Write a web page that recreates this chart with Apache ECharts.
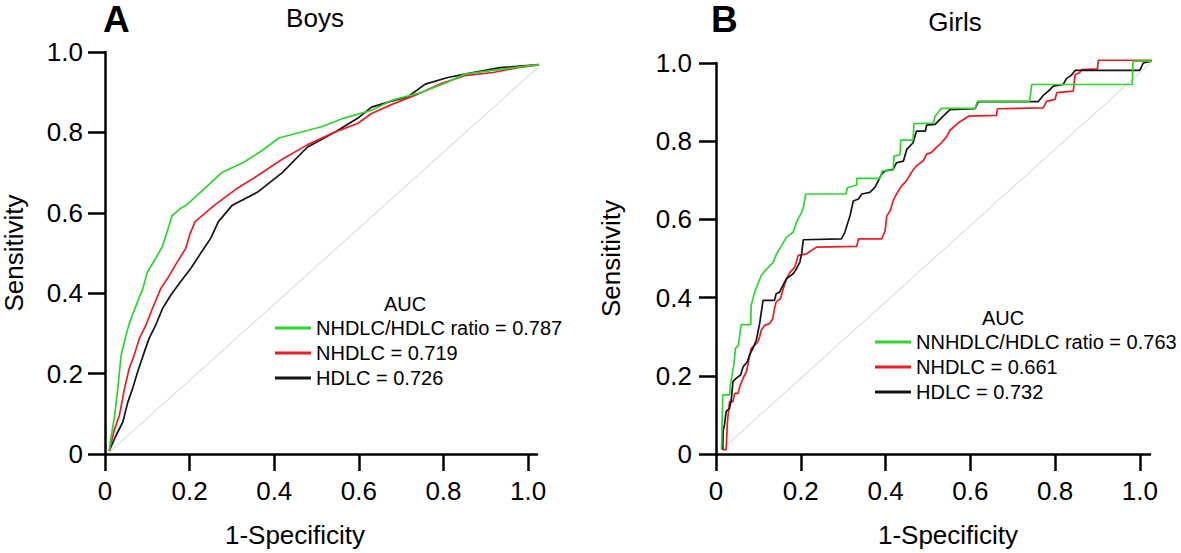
<!DOCTYPE html>
<html>
<head>
<meta charset="utf-8">
<script src="https://cdn.jsdelivr.net/npm/echarts@6/dist/echarts.min.js"></script>
<style>
html,body{margin:0;padding:0;background:#fff;}
#chart{width:1181px;height:553px;}
</style>
</head>
<body>
<div id="chart"></div>
<script>
// ---- data ----
const tickValues = [0, 0.2, 0.4, 0.6, 0.8, 1.0];
const tickLabels = ['0', '0.2', '0.4', '0.6', '0.8', '1.0'];

const panelTitles = ['Boys', 'Girls'];
const panelLetters = ['A', 'B'];
const xAxisName = '1-Specificity';
const yAxisName = 'Sensitivity';
const legendTitle = 'AUC';

const boysNames = ['NHDLC/HDLC ratio = 0.787', 'NHDLC = 0.719', 'HDLC = 0.726'];
const girlsNames = ['NNHDLC/HDLC ratio = 0.763', 'NHDLC = 0.661', 'HDLC = 0.732'];

const boysRatio = [[0.01,0.008],[0.014,0.04],[0.022,0.09],[0.030,0.16],[0.038,0.245],[0.048,0.288],[0.056,0.32],[0.065,0.346],[0.077,0.379],[0.089,0.41],[0.100,0.452],[0.120,0.487],[0.135,0.515],[0.149,0.56],[0.158,0.592],[0.180,0.612],[0.192,0.619],[0.234,0.659],[0.276,0.700],[0.327,0.725],[0.369,0.753],[0.411,0.786],[0.453,0.798],[0.512,0.814],[0.563,0.835],[0.630,0.855],[0.681,0.881],[0.749,0.900],[0.808,0.924],[0.850,0.945],[0.934,0.957],[1.031,0.969]];
const boysNHDLC = [[0.01,0.008],[0.022,0.06],[0.034,0.096],[0.046,0.162],[0.057,0.212],[0.069,0.246],[0.081,0.287],[0.097,0.321],[0.112,0.362],[0.132,0.412],[0.148,0.437],[0.167,0.471],[0.191,0.512],[0.200,0.545],[0.213,0.578],[0.259,0.619],[0.310,0.659],[0.360,0.692],[0.419,0.733],[0.478,0.769],[0.546,0.802],[0.597,0.822],[0.630,0.847],[0.681,0.871],[0.732,0.892],[0.791,0.920],[0.850,0.941],[0.917,0.949],[0.976,0.961],[1.031,0.969]];
const boysHDLC = [[0.01,0.008],[0.026,0.046],[0.042,0.079],[0.054,0.129],[0.065,0.162],[0.077,0.204],[0.093,0.254],[0.104,0.287],[0.120,0.321],[0.136,0.362],[0.156,0.396],[0.179,0.429],[0.203,0.462],[0.234,0.512],[0.250,0.537],[0.268,0.578],[0.301,0.619],[0.360,0.651],[0.419,0.70],[0.478,0.763],[0.546,0.802],[0.597,0.835],[0.630,0.863],[0.681,0.879],[0.715,0.888],[0.757,0.920],[0.808,0.936],[0.850,0.945],[0.934,0.961],[1.031,0.969]];
const boysDiagonal = [[0.01,0.004],[1.031,0.969]];

const girlsRatio = [[0.013,0.011],[0.016,0.151],[0.032,0.151],[0.034,0.177],[0.042,0.228],[0.046,0.270],[0.053,0.278],[0.058,0.321],[0.060,0.331],[0.082,0.331],[0.083,0.380],[0.090,0.410],[0.099,0.435],[0.107,0.457],[0.116,0.469],[0.135,0.490],[0.143,0.512],[0.155,0.533],[0.166,0.554],[0.182,0.567],[0.190,0.593],[0.202,0.618],[0.206,0.631],[0.212,0.665],[0.307,0.665],[0.310,0.681],[0.332,0.688],[0.332,0.705],[0.387,0.705],[0.392,0.724],[0.418,0.726],[0.420,0.762],[0.434,0.765],[0.436,0.803],[0.465,0.803],[0.467,0.845],[0.513,0.846],[0.517,0.864],[0.532,0.884],[0.611,0.884],[0.617,0.902],[0.740,0.902],[0.745,0.945],[0.982,0.945],[0.984,1.005],[1.031,1.005]];
const girlsNHDLC = [[0.016,0.011],[0.024,0.011],[0.027,0.083],[0.032,0.134],[0.040,0.134],[0.044,0.155],[0.052,0.155],[0.056,0.172],[0.064,0.194],[0.072,0.211],[0.075,0.228],[0.083,0.270],[0.091,0.278],[0.099,0.287],[0.103,0.300],[0.107,0.317],[0.115,0.329],[0.127,0.334],[0.134,0.346],[0.138,0.372],[0.142,0.389],[0.152,0.397],[0.158,0.420],[0.167,0.450],[0.175,0.465],[0.186,0.478],[0.194,0.508],[0.214,0.512],[0.237,0.529],[0.332,0.531],[0.336,0.550],[0.391,0.550],[0.399,0.571],[0.403,0.609],[0.411,0.622],[0.418,0.648],[0.426,0.665],[0.438,0.686],[0.450,0.699],[0.461,0.720],[0.473,0.737],[0.489,0.750],[0.497,0.767],[0.508,0.771],[0.520,0.784],[0.532,0.796],[0.544,0.811],[0.552,0.828],[0.572,0.847],[0.596,0.864],[0.662,0.866],[0.664,0.883],[0.772,0.885],[0.780,0.902],[0.800,0.907],[0.804,0.924],[0.843,0.928],[0.847,0.970],[0.858,0.975],[0.862,0.983],[0.900,0.985],[0.902,1.007],[1.031,1.007]];
const girlsHDLC = [[0.016,0.011],[0.017,0.06],[0.020,0.075],[0.024,0.109],[0.032,0.117],[0.036,0.138],[0.040,0.185],[0.048,0.194],[0.058,0.202],[0.064,0.223],[0.074,0.236],[0.079,0.253],[0.087,0.270],[0.095,0.291],[0.099,0.312],[0.103,0.334],[0.111,0.393],[0.138,0.393],[0.142,0.410],[0.150,0.414],[0.158,0.431],[0.166,0.448],[0.182,0.461],[0.190,0.474],[0.198,0.491],[0.202,0.512],[0.206,0.548],[0.296,0.550],[0.304,0.567],[0.316,0.609],[0.324,0.647],[0.336,0.652],[0.344,0.665],[0.363,0.669],[0.375,0.682],[0.383,0.699],[0.391,0.716],[0.399,0.724],[0.418,0.728],[0.426,0.745],[0.442,0.749],[0.450,0.779],[0.465,0.796],[0.473,0.826],[0.494,0.826],[0.497,0.841],[0.517,0.843],[0.536,0.864],[0.552,0.881],[0.611,0.883],[0.619,0.901],[0.760,0.901],[0.772,0.917],[0.784,0.928],[0.796,0.941],[0.819,0.945],[0.827,0.960],[0.839,0.969],[0.847,0.981],[1.000,0.981],[1.008,1.0],[1.031,1.005]];
const girlsDiagonal = [[0.013,0.011],[1.031,1.005]];

// ---- styles ----
const FONT = "'Liberation Sans', Arial, Helvetica, sans-serif";
const GREEN = '#2fd42f', RED = '#ec1c24', BLACK = '#141414', GREY = '#cfcfcf';

const chart = echarts.init(document.getElementById('chart'), null, {renderer: 'svg'});

function fmt(v) {
  const i = tickValues.findIndex(t => Math.abs(t - v) < 1e-6);
  return i >= 0 ? tickLabels[i] : '';
}
function xAxisFor(gridIndex, max, namePad) {
  return {
    type: 'value', gridIndex, min: 0, max: max,
    name: xAxisName, nameLocation: 'middle', nameGap: 68,
    nameTextStyle: {fontFamily: FONT, fontSize: 26, color: '#000', padding: namePad},
    axisLine: {show: true, lineStyle: {color: '#000', width: 2.5}},
    axisTick: {show: true, length: 17, customValues: tickValues, lineStyle: {color: '#000', width: 2.5}},
    axisLabel: {customValues: tickValues, margin: 24, fontFamily: FONT, fontSize: 26, color: '#000', formatter: fmt},
    splitLine: {show: false}
  };
}
function yAxisFor(gridIndex, nameGap, labelMargin) {
  return {
    type: 'value', gridIndex, min: 0, max: 1, interval: 0.2,
    name: yAxisName, nameLocation: 'middle', nameGap: nameGap,
    nameTextStyle: {fontFamily: FONT, fontSize: 26, color: '#000'},
    axisLine: {show: true, lineStyle: {color: '#000', width: 2.5}},
    axisTick: {show: true, length: 17, lineStyle: {color: '#000', width: 2.5}},
    axisLabel: {margin: labelMargin, fontFamily: FONT, fontSize: 26, color: '#000', formatter: fmt},
    splitLine: {show: false}
  };
}
function lineSeries(name, data, color, idx, z) {
  return {
    name, type: 'line', data, xAxisIndex: idx, yAxisIndex: idx,
    symbol: 'none', clip: false, z: z,
    lineStyle: {color, width: 1.7}, itemStyle: {color},
    animation: false
  };
}
function legendFor(names, left, top) {
  return {
    data: names, orient: 'vertical', left: left, top: top, padding: 0, itemGap: 5,
    itemWidth: 36, itemHeight: 3, icon: 'rect',
    textStyle: {fontFamily: FONT, fontSize: 20, color: '#000', lineHeight: 20}
  };
}

const option = {
  animation: false,
  backgroundColor: '#fff',
  grid: [
    {left: 104, top: 52, width: 433, height: 403},
    {left: 716, top: 63, width: 434, height: 393}
  ],
  xAxis: [xAxisFor(0, 1.021, [0, 52, 0, 0]), xAxisFor(1, 1.024, [0, 0, 0, 30])],
  yAxis: [yAxisFor(0, 78, 22), yAxisFor(1, 92, 24)],
  legend: [legendFor(boysNames, 275, 318), legendFor(girlsNames, 875, 332)],
  graphic: [
    {type: 'text', left: 103, top: 1, style: {text: panelLetters[0], font: "bold 37px " + FONT, fill: '#000'}},
    {type: 'text', x: 315, y: 18, style: {text: panelTitles[0], font: "26px " + FONT, fill: '#000', textAlign: 'center', textVerticalAlign: 'middle'}},
    {type: 'text', left: 711, top: 1, style: {text: panelLetters[1], font: "bold 37px " + FONT, fill: '#000'}},
    {type: 'text', x: 955, y: 22, style: {text: panelTitles[1], font: "26px " + FONT, fill: '#000', textAlign: 'center', textVerticalAlign: 'middle'}},
    {type: 'text', x: 405, y: 304, style: {text: legendTitle, font: "20px " + FONT, fill: '#000', textAlign: 'center', textVerticalAlign: 'middle'}},
    {type: 'text', x: 1003, y: 318, style: {text: legendTitle, font: "20px " + FONT, fill: '#000', textAlign: 'center', textVerticalAlign: 'middle'}}
  ],
  series: [
    {name: 'diagA', type: 'line', data: boysDiagonal, xAxisIndex: 0, yAxisIndex: 0, symbol: 'none', clip: false, silent: true,
     lineStyle: {color: GREY, width: 1}, z: 1},
    lineSeries(boysNames[2], boysHDLC, BLACK, 0, 2),
    lineSeries(boysNames[1], boysNHDLC, RED, 0, 3),
    lineSeries(boysNames[0], boysRatio, GREEN, 0, 4),
    {name: 'diagB', type: 'line', data: girlsDiagonal, xAxisIndex: 1, yAxisIndex: 1, symbol: 'none', clip: false, silent: true,
     lineStyle: {color: GREY, width: 1}, z: 1},
    lineSeries(girlsNames[1], girlsNHDLC, RED, 1, 2),
    lineSeries(girlsNames[2], girlsHDLC, BLACK, 1, 3),
    lineSeries(girlsNames[0], girlsRatio, GREEN, 1, 4)
  ]
};
chart.setOption(option);
</script>
</body>
</html>
